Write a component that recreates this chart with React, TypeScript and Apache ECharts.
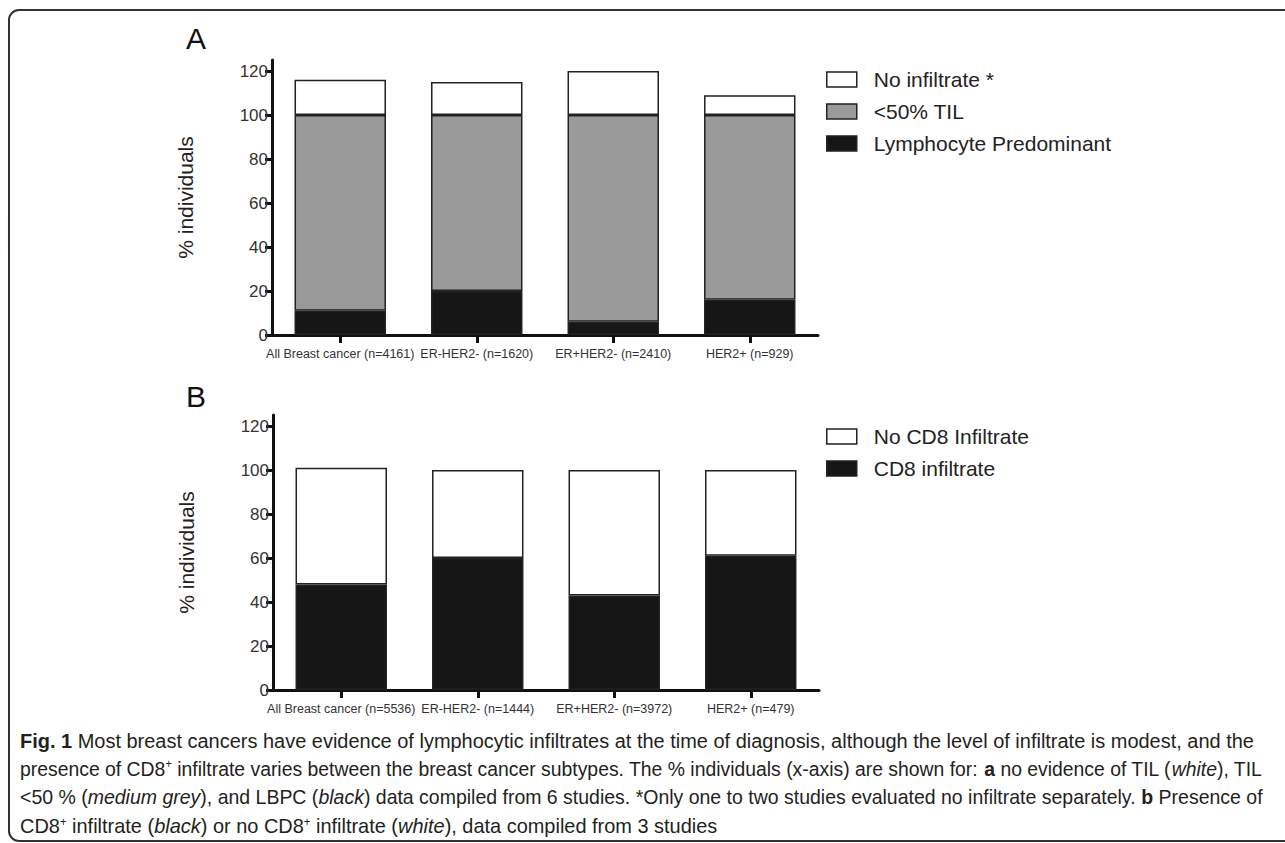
import React, { useEffect, useRef } from "react";
import * as echarts from "echarts";

const categoriesA = ["All Breast cancer (n=4161)", "ER-HER2- (n=1620)", "ER+HER2- (n=2410)", "HER2+ (n=929)"];
const categoriesB = ["All Breast cancer (n=5536)", "ER-HER2- (n=1444)", "ER+HER2- (n=3972)", "HER2+ (n=479)"];

const lymphocytePredominant = [11, 20, 6, 16];
const tilUnder50 = [89, 80, 94, 84];
const noInfiltrate = [16, 15, 20, 9];

const cd8Infiltrate = [48, 60, 43, 61];
const noCd8Infiltrate = [53, 40, 57, 39];

const yTicks = [0, 20, 40, 60, 80, 100, 120];

const SANS = "'Liberation Sans', Arial, sans-serif";

const captionLines = [
  "{b|Fig. 1} Most breast cancers have evidence of lymphocytic infiltrates at the time of diagnosis, although the level of infiltrate is modest, and the",
  "presence of CD8{s|+} infiltrate varies between the breast cancer subtypes. The % individuals (x-axis) are shown for: {b|a} no evidence of TIL ({i|white}), TIL",
  "<50 % ({i|medium grey}), and LBPC ({i|black}) data compiled from 6 studies. *Only one to two studies evaluated no infiltrate separately. {b|b} Presence of",
  "CD8{s|+} infiltrate ({i|black}) or no CD8{s|+} infiltrate ({i|white}), data compiled from 3 studies",
];
const captionRight = [1255, 1262, 1262, 0];

const CAP_SIZE = 21;
const CAP_COLOR = "#231f20";

function measureLine(line: string): number {
  const ctx = document.createElement("canvas").getContext("2d");
  if (!ctx) return 0;
  const fontFor = (tag: string | null) => {
    if (tag === "b") return `bold ${CAP_SIZE}px ${SANS}`;
    if (tag === "i") return `italic ${CAP_SIZE}px ${SANS}`;
    if (tag === "s") return `12px ${SANS}`;
    return `${CAP_SIZE}px ${SANS}`;
  };
  let total = 0;
  const re = /\{(\w)\|([^}]*)\}/g;
  let last = 0;
  let m: RegExpExecArray | null;
  while ((m = re.exec(line))) {
    ctx.font = fontFor(null);
    total += ctx.measureText(line.slice(last, m.index)).width;
    ctx.font = fontFor(m[1]);
    total += ctx.measureText(m[2]).width;
    last = m.index + m[0].length;
  }
  ctx.font = fontFor(null);
  total += ctx.measureText(line.slice(last)).width;
  return total;
}

function yAxisCfg(gridIndex: number) {
  return {
    type: "value",
    gridIndex,
    min: 0,
    max: 125,
    interval: 20,
    name: "% individuals",
    nameLocation: "middle",
    nameGap: 76,
    nameTextStyle: { fontFamily: SANS, fontSize: 21, color: "#222" },
    axisLine: { show: true, lineStyle: { color: "#111", width: 3 } },
    axisTick: { show: true, length: 7, lineStyle: { color: "#111", width: 3 }, customValues: yTicks },
    axisLabel: { fontFamily: SANS, fontSize: 17, color: "#333", margin: 4, customValues: yTicks },
    splitLine: { show: false },
  };
}

function xAxisCfg(gridIndex: number, data: string[]) {
  return {
    type: "category",
    gridIndex,
    data,
    axisLine: { show: true, onZero: false, lineStyle: { color: "#111", width: 3 } },
    axisTick: { show: true, alignWithLabel: true, length: 8, lineStyle: { color: "#111", width: 3 } },
    axisLabel: { interval: 0, fontFamily: SANS, fontSize: 12.5, color: "#333", margin: 12 },
    splitLine: { show: false },
  };
}

const barStyle = (color: string) => ({ color, borderColor: "#222", borderWidth: 1.5 });

const legendCfg = (data: string[], top: number) => ({
  data,
  orient: "vertical",
  left: 826,
  top,
  padding: 0,
  itemWidth: 30,
  itemHeight: 15,
  itemGap: 11,
  icon: "rect",
  selectedMode: false,
  itemStyle: { borderColor: "#222", borderWidth: 1.5 },
  textStyle: { fontFamily: SANS, fontSize: 21, color: "#222", padding: [0, 0, 0, 12] },
});

export default function App() {
  const ref = useRef<HTMLDivElement>(null);
  useEffect(() => {
    if (!ref.current) return;
    const chart = echarts.init(ref.current, null, { renderer: "svg" });
    const rich = {
      b: { fontFamily: SANS, fontSize: CAP_SIZE, fontWeight: "bold", fill: CAP_COLOR },
      i: { fontFamily: SANS, fontSize: CAP_SIZE, fontStyle: "italic", fill: CAP_COLOR },
      s: { fontFamily: SANS, fontSize: 12, fill: CAP_COLOR, verticalAlign: "top" },
    };
    const scales = captionLines.map((t, k) => {
      const w = measureLine(t);
      const target = captionRight[k] ? captionRight[k] - 20 : 0;
      return target && w > 0 ? target / w : 0.95;
    });
    chart.setOption({
      animation: false,
      backgroundColor: "#fff",
      grid: [
        { left: 272, top: 60, width: 546, height: 275 },
        { left: 273, top: 415, width: 546, height: 275 },
      ],
      xAxis: [xAxisCfg(0, categoriesA), xAxisCfg(1, categoriesB)],
      yAxis: [yAxisCfg(0), yAxisCfg(1)],
      legend: [
        legendCfg(["No infiltrate *", "<50% TIL", "Lymphocyte Predominant"], 69),
        legendCfg(["No CD8 Infiltrate", "CD8 infiltrate"], 426),
      ],
      series: [
        { name: "Lymphocyte Predominant", type: "bar", stack: "a", xAxisIndex: 0, yAxisIndex: 0, barCategoryGap: "33%", data: lymphocytePredominant, itemStyle: barStyle("#161616") },
        { name: "<50% TIL", type: "bar", stack: "a", xAxisIndex: 0, yAxisIndex: 0, barCategoryGap: "33%", data: tilUnder50, itemStyle: barStyle("#9a9a9a") },
        { name: "No infiltrate *", type: "bar", stack: "a", xAxisIndex: 0, yAxisIndex: 0, barCategoryGap: "33%", data: noInfiltrate, itemStyle: barStyle("#ffffff") },
        { name: "CD8 infiltrate", type: "bar", stack: "b", xAxisIndex: 1, yAxisIndex: 1, barCategoryGap: "33%", data: cd8Infiltrate, itemStyle: barStyle("#161616") },
        { name: "No CD8 Infiltrate", type: "bar", stack: "b", xAxisIndex: 1, yAxisIndex: 1, barCategoryGap: "33%", data: noCd8Infiltrate, itemStyle: barStyle("#ffffff") },
      ],
      graphic: [
        {
          type: "rect",
          shape: { x: 9, y: 10, width: 1300, height: 831, r: 10 },
          style: { fill: "none", stroke: "#333", lineWidth: 2 },
          silent: true,
        },
        { type: "text", x: 186, y: 38, style: { text: "A", fontFamily: SANS, fontSize: 30, fill: "#111", verticalAlign: "middle" } },
        { type: "text", x: 186, y: 396, style: { text: "B", fontFamily: SANS, fontSize: 30, fill: "#111", verticalAlign: "middle" } },
        ...captionLines.map((t, k) => ({
          type: "text",
          x: 20,
          y: 740 + k * 28.5,
          scaleX: scales[k],
          style: {
            text: t,
            rich,
            fontFamily: SANS,
            fontSize: CAP_SIZE,
            fill: CAP_COLOR,
            verticalAlign: "middle",
          },
        })),
      ],
    });
    return () => chart.dispose();
  }, []);
  return <div ref={ref} style={{ position: "absolute", left: 0, top: 0, width: 1285, height: 843 }} />;
}
